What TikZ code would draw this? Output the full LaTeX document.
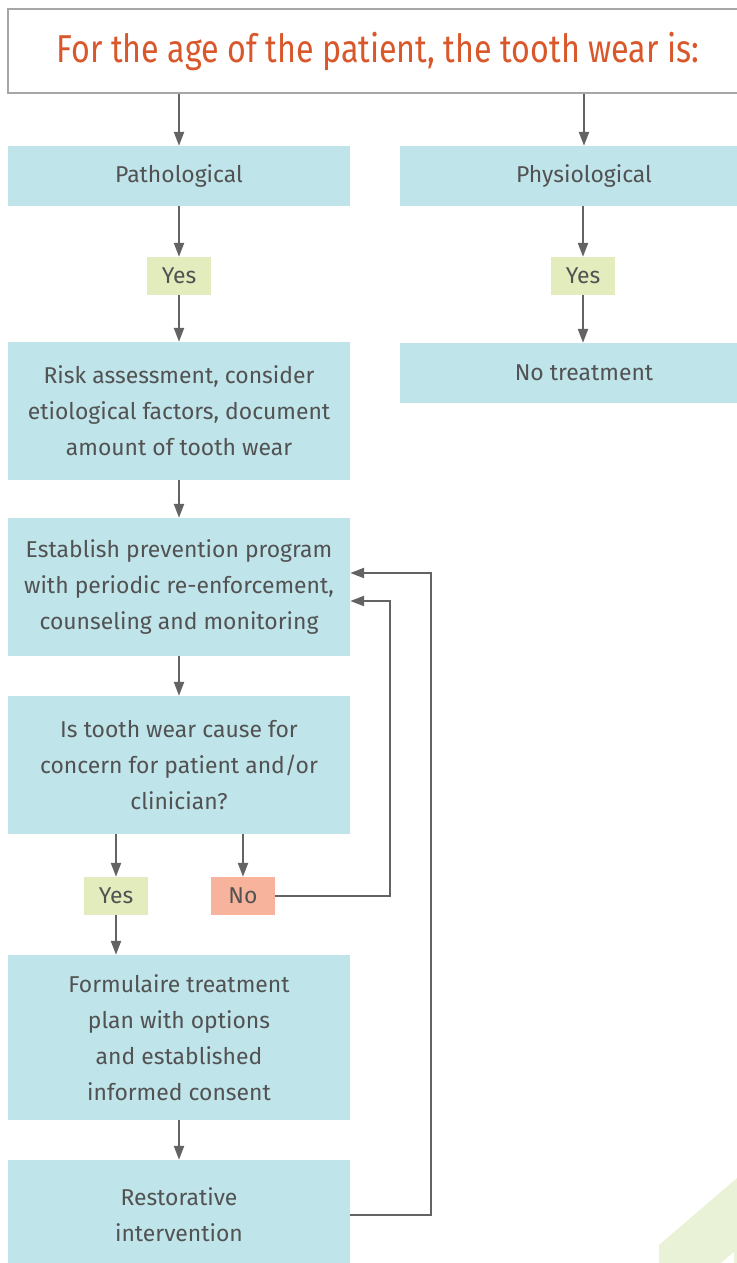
\documentclass[tikz,border=0pt]{standalone}
\usepackage{fontspec}
\setmainfont{Fira Sans}
\newfontfamily\titlefont[FakeStretch=0.83]{Fira Sans}
\usetikzlibrary{arrows.meta, positioning}
\definecolor{boxblue}{HTML}{BFE4EA}
\definecolor{yesgreen}{HTML}{E2ECBD}
\definecolor{nored}{HTML}{F7B39B}
\definecolor{linegray}{HTML}{636363}
\definecolor{textgray}{HTML}{525252}
\definecolor{titleorange}{HTML}{D9582B}
\definecolor{decogreen}{HTML}{E9F2D6}

\begin{document}
\begin{tikzpicture}[x=1bp, y=-1bp,
    stepbox/.style={fill=boxblue, minimum width=342bp, inner sep=0pt, align=center, text=textgray, font=\fontsize{23}{36}\selectfont},
    answer/.style={minimum width=64bp, minimum height=38bp, inner sep=0pt, text=textgray, font=\fontsize{23}{25}\selectfont},
    arr/.style={-{Triangle[length=14bp,width=10bp]}, line width=2.3bp, draw=linegray},
]
\clip (0,0) rectangle (737,1263);

% decoration in the corner
\fill[decogreen] (659,1263) -- (659,1245) -- (737,1178) -- (737,1263) -- cycle;
\fill[white] (721,1263) -- (734,1252) -- (734,1263) -- cycle;

% question at top
\node[draw=gray!70, line width=1.2bp, minimum width=740bp, minimum height=84bp, text=titleorange, font=\titlefont\fontsize{39}{40}\selectfont] (title) at (378,51) {For the age of the patient, the tooth wear is:};

% two branches
\node[stepbox, minimum height=60bp] (patho) at (179,176) {Pathological};
\node[stepbox, minimum width=368bp, minimum height=60bp] (physio) at (584,176) {Physiological};
\node[answer, fill=yesgreen] (yespatho) at (179,276) {Yes};
\node[answer, fill=yesgreen] (yesphysio) at (583,276) {Yes};
\node[stepbox, minimum width=368bp, minimum height=60bp] (notreat) at (584,373) {No treatment};

% left column
\node[stepbox, minimum height=138bp] (risk) at (179,411) {Risk assessment, consider\\etiological factors, document\\amount of tooth wear};
\node[stepbox, minimum height=138bp] (prevent) at (179,587) {Establish prevention program\\with periodic re-enforcement,\\counseling and monitoring};
\node[stepbox, minimum height=138bp] (concern) at (179,765) {Is tooth wear cause for\\concern for patient and/or\\clinician?};
\node[answer, fill=yesgreen] (yescon) at (116,896) {Yes};
\node[answer, fill=nored] (nocon) at (243,896) {No};
\node[stepbox, minimum height=165bp] (plan) at (179,1037.5) {Formulaire treatment\\plan with options\\and established\\informed consent};
\node[stepbox, minimum height=110bp] (restore) at (179,1215) {Restorative\\intervention};

% loop back points
\coordinate (restback) at ([yshift=14bp]prevent.east);
\coordinate (noback) at ([yshift=-14bp]prevent.east);
\coordinate (noturn) at (390,0);
\coordinate (restturn) at (431,0);

% connectors
\draw[arr] (title.south -| patho.north) -- (patho.north);
\draw[arr] (title.south -| physio.north) -- (physio.north);
\draw[arr] (patho.south) -- (yespatho.north);
\draw[arr] (physio.south -| yesphysio.north) -- (yesphysio.north);
\draw[arr] (yespatho.south) -- (risk.north);
\draw[arr] (yesphysio.south) -- (notreat.north -| yesphysio.south);
\draw[arr] (risk.south) -- (prevent.north);
\draw[arr] (prevent.south) -- (concern.north);
\draw[arr] (concern.south -| yescon.north) -- (yescon.north);
\draw[arr] (concern.south -| nocon.north) -- (nocon.north);
\draw[arr] (yescon.south) -- (plan.north -| yescon.south);
\draw[arr] (plan.south) -- (restore.north);
\draw[arr] (nocon.east) -| (noturn |- noback) -- (noback);
\draw[arr] (restore.east) -| (restturn |- restback) -- (restback);

\end{tikzpicture}
\end{document}
